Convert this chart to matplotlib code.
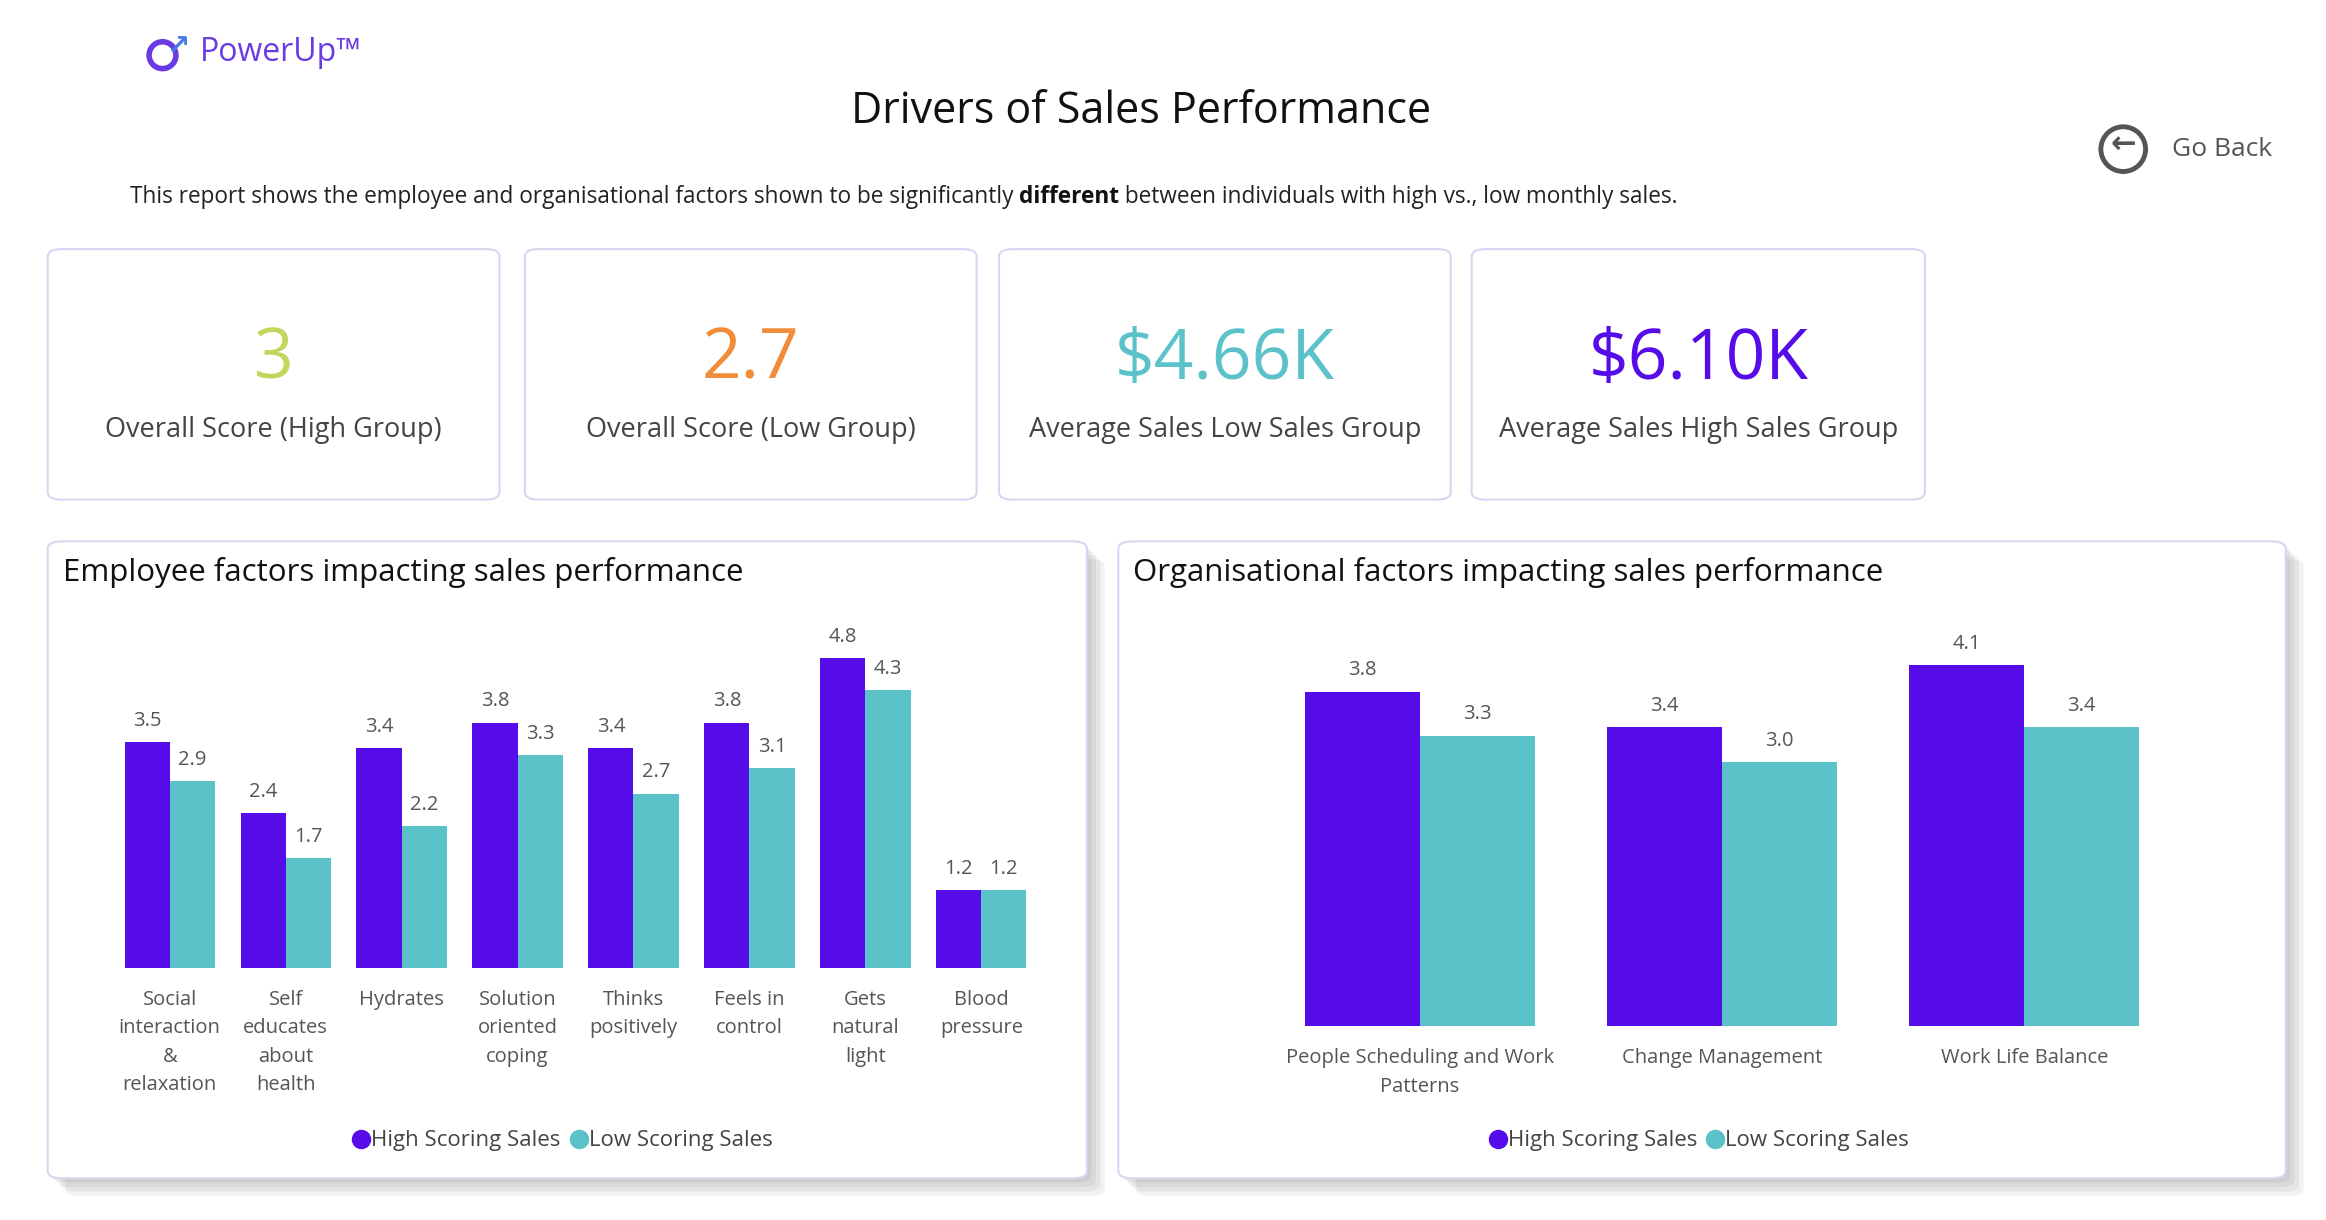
import matplotlib.pyplot as plt
from matplotlib.patches import FancyBboxPatch, Ellipse
from matplotlib.lines import Line2D
import numpy as np

plt.rcParams['font.family'] = ['Open Sans', 'DejaVu Sans']

PURPLE = '#560CE8'
TEAL = '#5BC2C9'
GREY = '#555555'

emp_cats = ['Social\ninteraction\n&\nrelaxation', 'Self\neducates\nabout\nhealth', 'Hydrates',
            'Solution\noriented\ncoping', 'Thinks\npositively', 'Feels in\ncontrol',
            'Gets\nnatural\nlight', 'Blood\npressure']
emp_high = [3.5, 2.4, 3.4, 3.8, 3.4, 3.8, 4.8, 1.2]
emp_low = [2.9, 1.7, 2.2, 3.3, 2.7, 3.1, 4.3, 1.2]

org_cats = ['People Scheduling and Work\nPatterns', 'Change Management', 'Work Life Balance']
org_high = [3.8, 3.4, 4.1]
org_low = [3.3, 3.0, 3.4]

card_values = ['3', '2.7', '$4.66K', '$6.10K']
card_labels = ['Overall Score (High Group)', 'Overall Score (Low Group)',
               'Average Sales Low Sales Group', 'Average Sales High Sales Group']
card_colors = ['#C5D45C', '#F08C3A', TEAL, PURPLE]

W, H = 1560, 818
fig = plt.figure(figsize=(23.26, 12.2), dpi=100)

def fx(x): return x / W
def fy(y): return 1 - y / H

def box(x0, y0, x1, y1, shadow=False):
    if shadow:
        for i in range(4):
            d = 3 + i * 3
            fig.patches.append(FancyBboxPatch((fx(x0 + d), fy(y1 + d)), fx(x1 - x0), (y1 - y0) / H,
                               boxstyle='round,pad=0,rounding_size=0.006', transform=fig.transFigure,
                               fc='#000000', ec='none', alpha=0.05, zorder=0))
    fig.patches.append(FancyBboxPatch((fx(x0), fy(y1)), fx(x1 - x0), (y1 - y0) / H,
                       boxstyle='round,pad=0,rounding_size=0.006', transform=fig.transFigure,
                       fc='white', ec='#DAD6F2', lw=1.5, zorder=1))

def ring(x, y, r, color, lw):
    fig.patches.append(Ellipse((fx(x), fy(y)), 2 * r / W, 2 * r / H, transform=fig.transFigure,
                               fc='none', ec=color, lw=lw))

# header
fig.text(fx(134), fy(35), 'PowerUp™', fontsize=23, color='#6A3BE4', va='center')
ring(109, 37, 9, '#6A3BE4', 4)
fig.text(fx(119), fy(31), '↗', fontsize=20, color='#4A7BE0', va='center', ha='center', fontweight='bold')
fig.text(fx(765), fy(75), 'Drivers of Sales Performance', fontsize=31, ha='center', va='center', color='#111111')
SUB_Y = 136
t1 = fig.text(fx(87), fy(SUB_Y), 'This report shows the employee and organisational factors shown to be significantly ',
              fontsize=16.3, va='baseline', color='#222222')
t2 = fig.text(0, 0, 'different', fontsize=16.3, va='baseline', color='#111111', fontweight='bold')
t3 = fig.text(0, 0, ' between individuals with high vs., low monthly sales.', fontsize=16.3, va='baseline', color='#222222')
fig.canvas.draw()
r = fig.canvas.get_renderer()
inv = fig.transFigure.inverted()
b1 = t1.get_window_extent(r)
t2.set_position((inv.transform((b1.x1, 0))[0], fy(SUB_Y)))
b2 = t2.get_window_extent(r)
t3.set_position((inv.transform((b2.x1, 0))[0], fy(SUB_Y)))

ring(1424, 100, 15, '#555555', 3.5)
fig.text(fx(1424), fy(98), '←', fontsize=22, ha='center', va='center', color='#555555', fontweight='bold')
fig.text(fx(1457), fy(100), 'Go Back', fontsize=19, va='center', color='#555555')

# cards
card_x = [(32, 335), (352, 655), (670, 973), (987, 1291)]
for (x0, x1), v, l, c in zip(card_x, card_values, card_labels, card_colors):
    box(x0, 167, x1, 335)
    xc = (x0 + x1) / 2
    fig.text(fx(xc), fy(242), v, fontsize=50, ha='center', va='center', color=c, zorder=3)
    fig.text(fx(xc), fy(288), l, fontsize=19.5, ha='center', va='center', color='#444444', zorder=3)

# panels
box(32, 363, 729, 790, shadow=True)
box(750, 363, 1533, 790, shadow=True)
fig.text(fx(42), fy(384), 'Employee factors impacting sales performance', fontsize=22.5, va='center', color='#111111', zorder=3)
fig.text(fx(760), fy(384), 'Organisational factors impacting sales performance', fontsize=22.5, va='center', color='#111111', zorder=3)

def bars(ax, cats, high, low, width, ylim):
    x = np.arange(len(cats))
    bh = ax.bar(x - width / 2, high, width, color=PURPLE)
    bl = ax.bar(x + width / 2, low, width, color=TEAL)
    for b in (bh, bl):
        ax.bar_label(b, labels=['{:.1f}'.format(v) for v in b.datavalues], padding=8, fontsize=14.5, color=GREY)
    ax.set_xticks(x, cats)
    ax.tick_params(axis='x', length=0, pad=16, labelsize=14.5, labelcolor=GREY)
    ax.set_yticks([])
    ax.set_ylim(0, ylim)
    ax.set_xlim(-0.5, len(cats) - 0.5)
    for s in ax.spines.values():
        s.set_visible(False)
    ax.patch.set_visible(False)
    for t in ax.get_xticklabels():
        t.set_linespacing(1.55)

ax1 = fig.add_axes([fx(75), fy(649), fx(697 - 75), (649 - 410) / H], zorder=3)
bars(ax1, emp_cats, emp_high, emp_low, 0.39, 5.52)
ax2 = fig.add_axes([fx(851), fy(688), fx(1459 - 851), (688 - 420) / H], zorder=3)
bars(ax2, org_cats, org_high, org_low, 0.38, 4.54)

handles = [Line2D([], [], ls='none', marker='o', ms=13, color=PURPLE, label='High Scoring Sales'),
           Line2D([], [], ls='none', marker='o', ms=13, color=TEAL, label='Low Scoring Sales')]
for ax, xc in ((ax1, 378), (ax2, 1140)):
    ax.legend(handles=handles, loc='center', bbox_to_anchor=(fx(xc), fy(765)), bbox_transform=fig.transFigure,
              ncol=2, frameon=False, fontsize=16, handlelength=0.6, handletextpad=0.15,
              columnspacing=0.5, labelcolor='#444444')

fig.savefig('out.png', dpi=100, facecolor='white')
